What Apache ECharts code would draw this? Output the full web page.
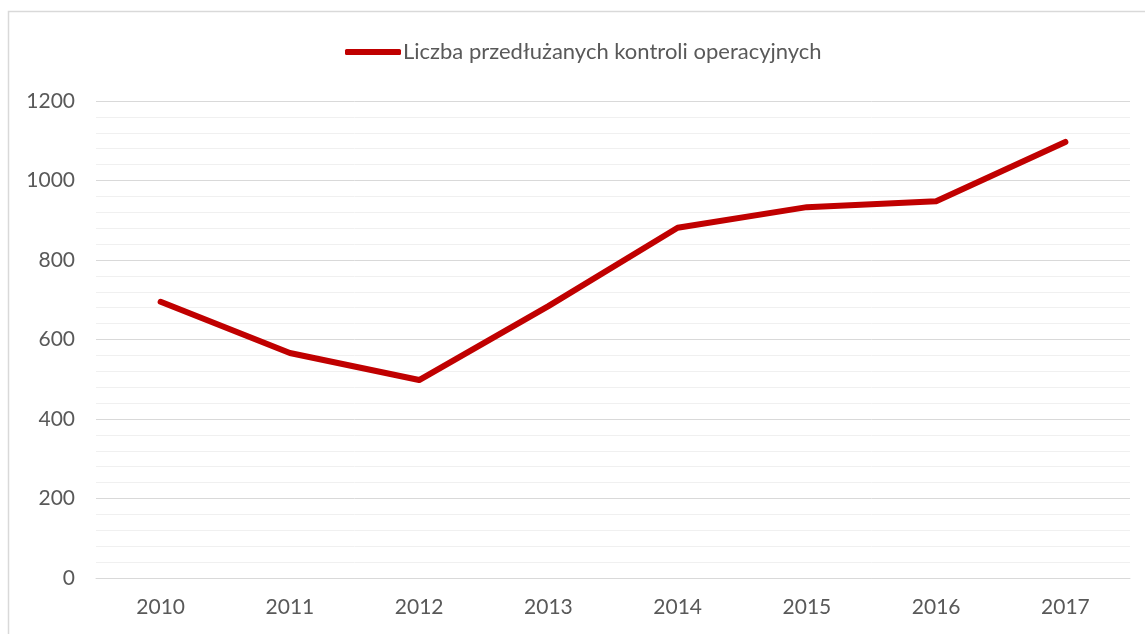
<!DOCTYPE html>
<html>
<head>
<meta charset="utf-8">
<script src="https://cdn.jsdelivr.net/npm/echarts@6/dist/echarts.min.js"></script>
<style>
  html, body { margin: 0; padding: 0; background: #fff; }
  #chart { width: 1145px; height: 634px; }
</style>
</head>
<body>
<div id="chart"></div>
<script>
var years = ['2010', '2011', '2012', '2013', '2014', '2015', '2016', '2017'];
var kontrole = [695, 566, 498, 684, 881, 933, 948, 1097];
var seriesName = 'Liczba przedłużanych kontroli operacyjnych';

var FONT = 'Lato, "Open Sans", sans-serif';
var chart = echarts.init(document.getElementById('chart'), null, { renderer: 'canvas' });

chart.setOption({
  animation: false,
  backgroundColor: '#fff',
  graphic: [{
    type: 'rect',
    shape: { x: 8.5, y: 11.5, width: 1150, height: 640 },
    style: { fill: 'none', stroke: '#d9d9d9', lineWidth: 1.5 },
    silent: true
  }],
  legend: {
    left: 340,
    top: 36,
    itemWidth: 56,
    itemHeight: 6,
    itemGap: 0,
    icon: 'roundRect',
    textStyle: { color: '#595959', fontSize: 22, fontFamily: FONT, padding: [0, 0, 0, -3] },
    data: [seriesName]
  },
  grid: { left: 96, right: 15, top: 101, bottom: 56 },
  xAxis: {
    type: 'category',
    data: years,
    boundaryGap: true,
    axisLine: { lineStyle: { color: '#d9d9d9', width: 1 } },
    axisTick: { show: false },
    axisLabel: { color: '#595959', fontSize: 21, fontFamily: FONT, margin: 19 }
  },
  yAxis: {
    type: 'value',
    min: 0,
    max: 1200,
    interval: 200,
    axisLine: { show: false },
    axisTick: { show: false },
    axisLabel: {
      color: '#595959', fontSize: 21, fontFamily: FONT, margin: 21,
      formatter: function (v) { return String(v); }
    },
    splitLine: { lineStyle: { color: '#d9d9d9', width: 1 } },
    minorTick: { show: false, splitNumber: 5 },
    minorSplitLine: { show: true, lineStyle: { color: '#f0f0f0', width: 1 } }
  },
  series: [{
    name: seriesName,
    type: 'line',
    data: kontrole,
    symbol: 'none',
    lineStyle: { color: '#c00000', width: 6, cap: 'round', join: 'round' },
    itemStyle: { color: '#c00000' }
  }]
});
</script>
</body>
</html>
